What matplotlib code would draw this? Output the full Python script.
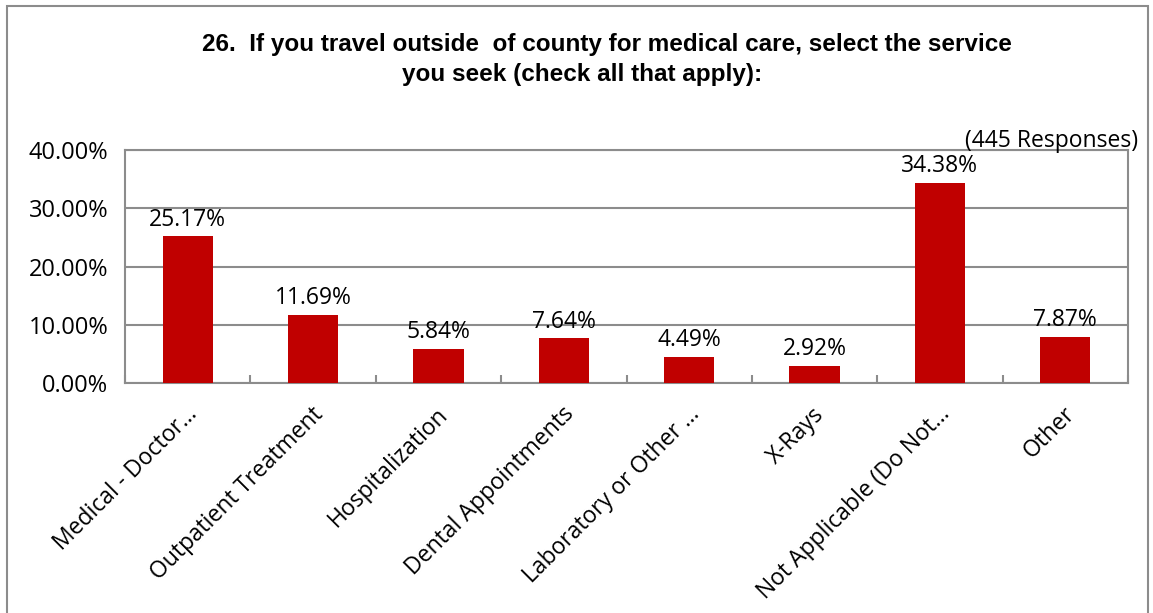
import matplotlib.pyplot as plt
from matplotlib.patches import Rectangle
from matplotlib.transforms import ScaledTranslation
import numpy as np

categories = ['Medical - Doctor…', 'Outpatient Treatment', 'Hospitalization',
              'Dental Appointments', 'Laboratory or Other …', 'X-Rays',
              'Not Applicable (Do Not…', 'Other']
values = [25.17, 11.69, 5.84, 7.64, 4.49, 2.92, 34.38, 7.87]
yticks = [0, 10, 20, 30, 40]

title_lines = ['26.  If you travel outside  of county for medical care, select the service',
               'you seek (check all that apply):']
note = '(445 Responses)'

bar_color = '#C00000'
grid_color = '#8C8C8C'
label_font = ['Open Sans', 'DejaVu Sans']
fs = 16.5

fig = plt.figure(figsize=(11.53, 6.13), dpi=100)
ax = fig.add_axes([125 / 1153, 1 - 383 / 613, (1128 - 125) / 1153, (383 - 150) / 613])

x = np.arange(len(categories))
ax.bar(x, values, width=0.4, color=bar_color, zorder=3)
for xi, v in zip(x, values):
    ax.text(xi, v + 0.8, f'{v:.2f}%', ha='center', va='bottom',
            fontsize=fs, family=label_font)

ax.set_xlim(-0.5, len(categories) - 0.5)
ax.set_ylim(0, 40)
ax.set_yticks(yticks)
ax.set_yticklabels([f'{t:.2f}%' for t in yticks], fontsize=17, family=label_font)
ax.yaxis.grid(True, color=grid_color, linewidth=1.5, zorder=0)
ax.tick_params(axis='y', length=0, pad=12)

ax.set_xticks(x)
ax.set_xticklabels(categories, rotation=45, ha='right', rotation_mode='anchor',
                   fontsize=fs, family=label_font)
ax.tick_params(axis='x', length=0, pad=14)
shift = ScaledTranslation(-2 / 100, 0, fig.dpi_scale_trans)
for lbl in ax.get_xticklabels():
    lbl.set_transform(lbl.get_transform() + shift)
ax.set_xticks(np.arange(len(categories) + 1) - 0.5, minor=True)
ax.tick_params(axis='x', which='minor', direction='in', length=6,
               color=grid_color, width=1.5)

for s in ax.spines.values():
    s.set_color(grid_color)
    s.set_linewidth(1.5)

# two title lines, each centred where the reference puts it
title_x = [607, 582]
title_y = [45, 75]
for line, tx, ty in zip(title_lines, title_x, title_y):
    fig.text(tx / 1153, 1 - ty / 613, line, ha='center', va='center', fontsize=17.5,
             fontweight='bold', family=['Liberation Sans', 'DejaVu Sans'])
fig.text(1138 / 1153, 1 - 141 / 613, note, ha='right', va='center',
         fontsize=fs, family=label_font)

fig.patches.append(Rectangle((7 / 1153, -0.05), (1148 - 7) / 1153, 1.05 - 6 / 613,
                             transform=fig.transFigure, fill=False,
                             edgecolor=grid_color, linewidth=1.5))

fig.savefig('out.png', dpi=100)
